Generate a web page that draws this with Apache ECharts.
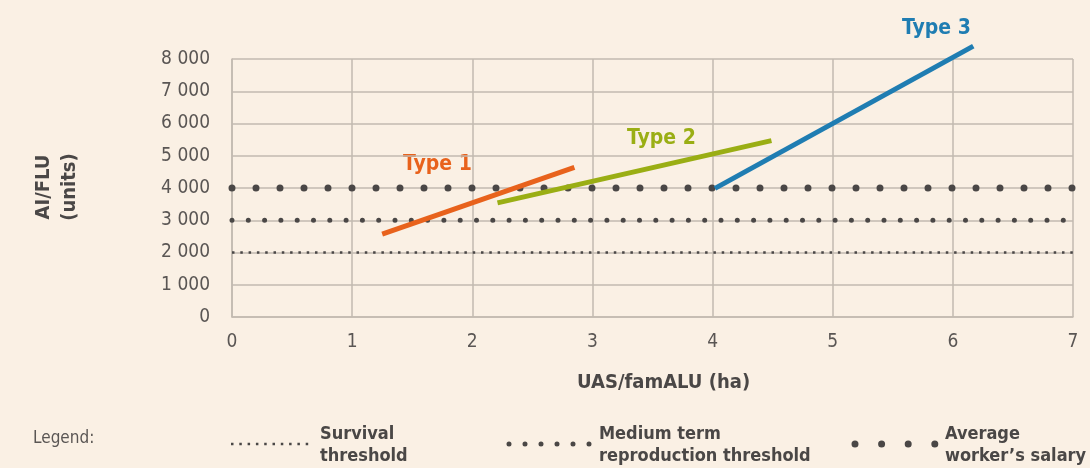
<!DOCTYPE html>
<html>
<head>
<meta charset="utf-8">
<script src="https://cdn.jsdelivr.net/npm/echarts@6/dist/echarts.min.js"></script>
<style>
  html, body { margin: 0; padding: 0; background: #faf0e4; }
  #chart { width: 1090px; height: 468px; }
</style>
</head>
<body>
<div id="chart"></div>
<script>
// data
const xMin = 0, xMax = 7
const yMin = 0, yMax = 8000, yStep = 1000

const thresholdNames = ['Survival\nthreshold', 'Medium term\nreproduction threshold', 'Average\nworker\u2019s salary']
const thresholdValues = [2000, 3000, 4000]

const typeNames = ['Type 1', 'Type 2', 'Type 3']
const type1 = [[1.25, 2570], [2.85, 4640]]
const type2 = [[2.21, 3540], [4.49, 5470]]
const type3 = [[4.02, 3990], [6.17, 8400]]

const typeColors = ['#e8621c', '#9aae14', '#1f7db2']
const ink = '#4a4746'
const gridColor = '#c2bab0'
const narrow = "'Liberation Sans Narrow', 'DejaVu Sans Condensed', 'Roboto', sans-serif"

// dot patterns for the three thresholds
const thresholdStyles = [
    { width: 2.5, type: [2.5, 5.8], cap: 'butt' },
    { width: 5, type: [0, 16.3], cap: 'round' },
    { width: 7, type: [0, 24], cap: 'round' }
]
// the legend swatches are spaced a little differently
const legendDash = [[2.5, 5.8], [0, 16], [0, 26.6]]

let chart = echarts.init(document.getElementById('chart'))

let series = []
thresholdValues.forEach((v, i) => {
    series.push({
        name: thresholdNames[i],
        type: 'line',
        symbol: 'none',
        silent: true,
        data: [[xMin, v], [xMax, v]],
        lineStyle: Object.assign({ color: ink }, thresholdStyles[i])
    })
})
;[type1, type2, type3].forEach((d, i) => {
    series.push({
        name: typeNames[i],
        type: 'line',
        symbol: 'none',
        clip: false,
        data: d,
        lineStyle: { color: typeColors[i], width: 5, cap: 'butt' }
    })
})

// legend swatches + labels (drawn by hand, the layout is not a normal legend)
let swatchX = [231, 509, 855]
let swatchW = [80, 81, 81]
let graphic = [
    { type: 'text', left: 33, top: 430, style: { text: 'Legend:', font: '17px ' + narrow, fill: '#5a5654' } },
    { type: 'text', left: 577, top: 373, style: { text: 'UAS/famALU (ha)', font: 'bold 20px ' + narrow, fill: ink } },
    {
        type: 'text', x: 57, y: 187, rotation: Math.PI / 2,
        style: { text: 'AI/FLU\n(units)', font: 'bold 20px ' + narrow, fill: ink, align: 'center', verticalAlign: 'middle', lineHeight: 26 }
    },
    { type: 'text', left: 403, top: 154, style: { text: typeNames[0], font: 'bold 21px ' + narrow, fill: typeColors[0] } },
    { type: 'text', left: 627, top: 128, style: { text: typeNames[1], font: 'bold 21px ' + narrow, fill: typeColors[1] } },
    { type: 'text', left: 902, top: 18, style: { text: typeNames[2], font: 'bold 21px ' + narrow, fill: typeColors[2] } }
]
thresholdNames.forEach((n, i) => {
    let s = thresholdStyles[i]
    graphic.push({
        type: 'line',
        shape: { x1: swatchX[i], y1: 444, x2: swatchX[i] + swatchW[i], y2: 444 },
        style: { stroke: ink, lineWidth: s.width, lineDash: legendDash[i], lineCap: s.cap }
    })
    graphic.push({
        type: 'text', left: swatchX[i] + swatchW[i] + 9, top: 423,
        style: { text: n, font: 'bold 18px ' + narrow, fill: ink, lineHeight: 22 }
    })
})

let option = {
    backgroundColor: '#faf0e4',
    animation: false,
    grid: { left: 232, right: 17, top: 59, bottom: 151 },
    xAxis: {
        type: 'value',
        min: xMin,
        max: xMax,
        interval: 1,
        axisLine: { show: true, lineStyle: { color: gridColor, width: 1.5 } },
        axisTick: { show: false },
        splitLine: { show: true, lineStyle: { color: gridColor, width: 1.5 } },
        axisLabel: { color: '#5a5654', fontFamily: narrow, fontSize: 19, margin: 16 }
    },
    yAxis: {
        type: 'value',
        min: yMin,
        max: yMax,
        interval: yStep,
        axisLine: { show: true, lineStyle: { color: gridColor, width: 1.5 } },
        axisTick: { show: false },
        splitLine: { show: true, lineStyle: { color: gridColor, width: 1.5 } },
        axisLabel: {
            color: '#5a5654', fontFamily: narrow, fontSize: 19, margin: 22,
            formatter: v => v >= 1000 ? Math.floor(v / 1000) + ' ' + String(v % 1000).padStart(3, '0') : String(v)
        }
    },
    graphic: graphic,
    series: series
}

option && chart.setOption(option)
</script>
</body>
</html>
